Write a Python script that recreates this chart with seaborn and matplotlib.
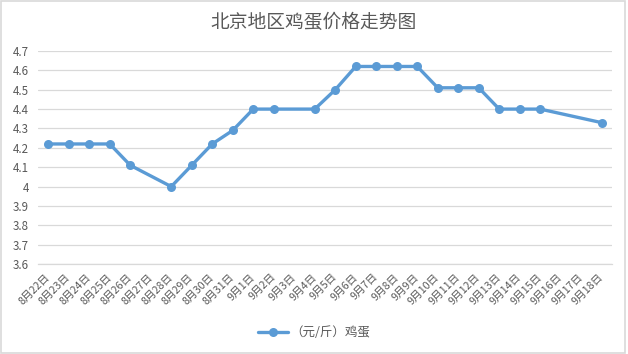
import numpy as np
import pandas as pd
import matplotlib
matplotlib.use("Agg")
import matplotlib.pyplot as plt
import seaborn as sns
from matplotlib.patches import Rectangle

dates = ["8月22日", "8月23日", "8月24日", "8月25日", "8月26日", "8月27日", "8月28日",
         "8月29日", "8月30日", "8月31日", "9月1日", "9月2日", "9月3日", "9月4日",
         "9月5日", "9月6日", "9月7日", "9月8日", "9月9日", "9月10日", "9月11日",
         "9月12日", "9月13日", "9月14日", "9月15日", "9月16日", "9月17日", "9月18日"]
prices = [4.22, 4.22, 4.22, 4.22, 4.11, None, 4.00,
          4.11, 4.22, 4.29, 4.40, 4.40, None, 4.40,
          4.50, 4.62, 4.62, 4.62, 4.62, 4.51, 4.51,
          4.51, 4.40, 4.40, 4.40, None, None, 4.33]
series_name = "（元/斤）鸡蛋"
title = "北京地区鸡蛋价格走势图"
yticks = [3.6, 3.7, 3.8, 3.9, 4.0, 4.1, 4.2, 4.3, 4.4, 4.5, 4.6, 4.7]
ytick_labels = ["3.6", "3.7", "3.8", "3.9", "4", "4.1", "4.2", "4.3", "4.4", "4.5", "4.6", "4.7"]

sns.set_style("white")
plt.rcParams['font.family'] = ['Noto Sans CJK SC', 'DejaVu Sans']

df = pd.DataFrame({"pos": np.arange(len(dates)), "date": dates,
                   "price": pd.array(prices, dtype="float")})
df = df.dropna(subset=["price"])
df["series"] = series_name

fig = plt.figure(figsize=(6.28, 3.54), dpi=100)
ax = fig.add_axes([0.0605, 0.254, 0.914, 0.602])

color = "#5B9BD5"
sns.lineplot(data=df, x="pos", y="price", hue="series", palette=[color],
             marker="o", markersize=6.5, markeredgewidth=0, linewidth=2.4,
             ax=ax, legend=True)

ax.set_xlim(-0.5, len(dates) - 0.5)
ax.set_ylim(3.6, 4.7)
ax.set_yticks(yticks)
ax.set_yticklabels(ytick_labels, fontsize=8.3, color="#595959")
ax.tick_params(axis="y", length=0, pad=6.5)
ax.yaxis.grid(True, color="#D9D9D9", linewidth=0.9)
ax.xaxis.grid(False)

ax.set_xticks(np.arange(len(dates)))
ax.set_xticklabels(dates, rotation=45, ha="right", va="center",
                   rotation_mode="anchor", fontsize=7.7, color="#595959")
ax.tick_params(axis="x", which="major", length=0, pad=8)
ax.set_xticks(np.arange(-0.5, len(dates), 1.0), minor=True)
ax.tick_params(axis="x", which="minor", length=4, color="#D9D9D9", width=0.9)

for s in ["top", "right", "left"]:
    ax.spines[s].set_visible(False)
ax.spines["bottom"].set_color("#D9D9D9")
ax.spines["bottom"].set_linewidth(0.9)
ax.set_xlabel("")
ax.set_ylabel("")

fig.text(0.5, 0.937, title, ha="center", va="center", fontsize=13.5, color="#595959")

handles, labels = ax.get_legend_handles_labels()
ax.legend(handles, labels, loc="center", bbox_to_anchor=(0.5, 0.06),
          bbox_transform=fig.transFigure, frameon=False, fontsize=9,
          labelcolor="#595959", handlelength=2.4, handletextpad=0.2)

fig.patches.append(Rectangle((0.002, 0.003), 0.993, 0.993, transform=fig.transFigure,
                             fill=False, edgecolor="#D9D9D9", linewidth=1.2))

fig.savefig("out.png", dpi=100)
